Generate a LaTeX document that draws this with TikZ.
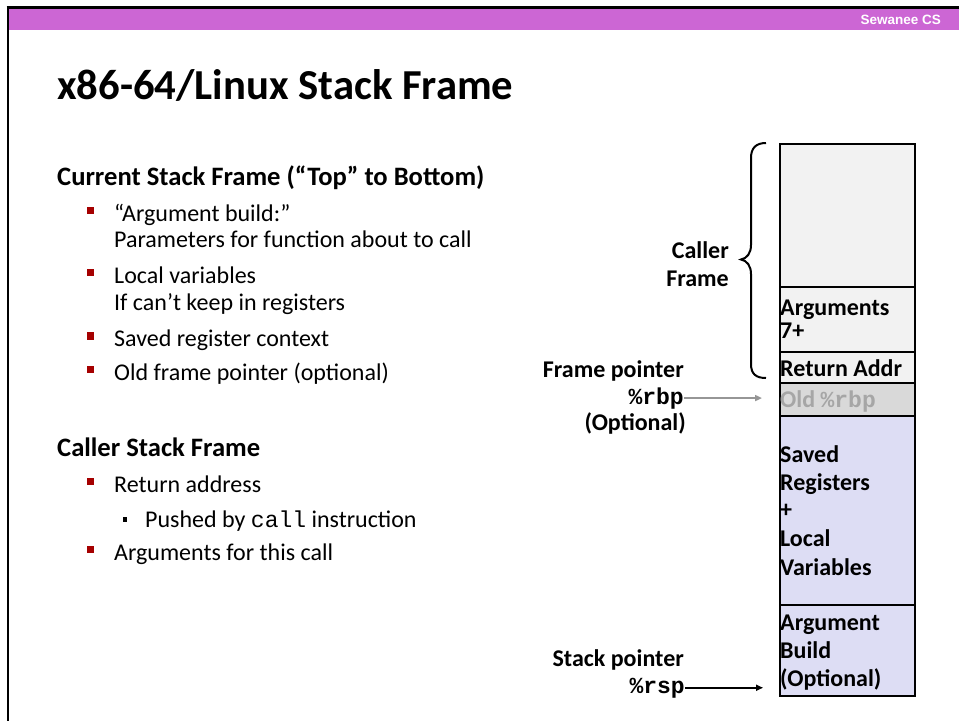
\documentclass[tikz,border=0pt]{standalone}
\usepackage{fontspec}
\setmainfont{Carlito}
\setmonofont{Liberation Mono}
\newfontfamily\hdrfont{Liberation Sans}
\usetikzlibrary{arrows.meta}
\definecolor{band}{RGB}{204,102,212}
\definecolor{bulletred}{RGB}{165,0,0}
\definecolor{cellgray}{RGB}{242,242,242}
\definecolor{oldgray}{RGB}{217,217,217}
\definecolor{oldtext}{RGB}{166,166,166}
\definecolor{lav}{RGB}{221,221,244}
\definecolor{arrgray}{RGB}{150,150,150}
\newcommand{\mymono}[1]{{\fontsize{23}{28}\selectfont\ttfamily #1}}
\begin{document}
\begin{tikzpicture}[x=1pt,y=-1pt,
  txt/.style={inner sep=0pt, anchor=base west, font=\fontsize{24}{28}\selectfont},
  btxt/.style={inner sep=0pt, anchor=base west, font=\fontsize{24}{28}\selectfont\bfseries},
  htxt/.style={inner sep=0pt, anchor=base west, font=\fontsize{26.6}{30}\selectfont\bfseries},
  rtxt/.style={btxt, anchor=base east},
  bul/.style={fill=bulletred, inner sep=0pt, minimum size=7.5pt},
  subbul/.style={fill=black, inner sep=0pt, minimum size=4.5pt},
  cell/.style={draw=black, line width=2pt, anchor=north west, minimum width=135pt, inner sep=0pt},
  ptr/.style={line width=2pt, -{Triangle[length=7pt,width=6pt]}},
]
\useasboundingbox (0,0) rectangle (959,721);
\fill[white] (0,0) rectangle (959,721);
% slide frame
\fill[band] (7,8) rectangle (959,30);
\draw[line width=3pt] (6.5,7.5) -- (959,7.5);
\draw[line width=2pt] (7.5,7) -- (7.5,721);
\node[anchor=base east, inner sep=0pt, text=white, font=\hdrfont\bfseries\fontsize{13.5}{14}\selectfont] (hdr) at (941,24.3) {Sewanee CS};
% title
\node[inner sep=0pt, anchor=base west, font=\fontsize{42.7}{50}\selectfont\bfseries] (title) at (57,99.5) {x86-64/Linux Stack Frame};
% left text
\node[htxt] (h1) at (57,185) {Current Stack Frame (“Top” to Bottom)};
\node[bul] (b1) at (90.5,210.5) {};
\node[txt] (t1a) at (114,221) {“Argument build:”};
\node[txt] (t1b) at (114,247.3) {Parameters for function about to call};
\node[bul] (b2) at (90.5,272.5) {};
\node[txt] (t2a) at (114,283) {Local variables};
\node[txt] (t2b) at (114,310.7) {If can’t keep in registers};
\node[bul] (b3) at (90.5,336.2) {};
\node[txt] (t3) at (114,346.7) {Saved register context};
\node[bul] (b4) at (90.5,369.5) {};
\node[txt] (t4) at (114,380) {Old frame pointer (optional)};
\node[htxt] (h2) at (57,456) {Caller Stack Frame};
\node[bul] (b5) at (90.5,481.5) {};
\node[txt] (t5) at (114,492) {Return address};
\node[subbul] (sb) at (125,519.3) {};
\node[txt] (t6) at (145,527.7) {Pushed by \mymono{call} instruction};
\node[bul] (b6) at (90.5,549.5) {};
\node[txt] (t7) at (114,560) {Arguments for this call};
% stack cells
\node[cell, fill=cellgray, minimum height=143pt] (cTop) at (779,143) {};
\node[cell, fill=cellgray, minimum height=65pt] (cArgs) at (779,286) {};
\node[cell, fill=cellgray, minimum height=31pt] (cRet) at (779,351) {};
\node[cell, fill=oldgray, minimum height=33pt] (cOld) at (779,382) {};
\node[cell, fill=lav, minimum height=189pt] (cSaved) at (779,415) {};
\node[cell, fill=lav, minimum height=91pt] (cBuild) at (779,604) {};
% cell texts
\node[btxt] (a1) at (780,315) {Arguments};
\node[btxt] (a2) at (780,338) {7+};
\node[btxt] (ra) at (780,376.7) {Return Addr};
\node[btxt, text=oldtext] (ob) at (780,407.7) {Old \mymono{\%rbp}};
\node[btxt] (s1) at (780,462) {Saved};
\node[btxt] (s2) at (780,490.7) {Registers};
\node[btxt] (s3) at (780,517) {+};
\node[btxt] (s4) at (780,546.7) {Local};
\node[btxt] (s5) at (780,575.7) {Variables};
\node[btxt] (g1) at (780,630.7) {Argument};
\node[btxt] (g2) at (780,658.7) {Build};
\node[btxt] (g3) at (780,686.7) {(Optional)};
% brace and caller frame label
\draw[line width=2pt] (766,143) .. controls (756,143) and (751,148) .. (751,158) -- (751,245)
  .. controls (751,253) and (747,258.5) .. (741,259.5)
  .. controls (747,260.5) and (751,266) .. (751,274) -- (751,364)
  .. controls (751,374) and (756,378) .. (766,378);
\node[rtxt] (cf1) at (729,258) {Caller};
\node[rtxt] (cf2) at (729,286.7) {Frame};
% pointers
\node[rtxt] (fp) at (684,377.3) {Frame pointer};
\node[rtxt] (rbp) at (684,404) {\mymono{\%rbp}};
\node[rtxt] (opt) at (686,430) {(Optional)};
\node[rtxt] (sp) at (684,666.7) {Stack pointer};
\node[rtxt] (rsp) at (685,693) {\mymono{\%rsp}};
\draw[ptr, arrgray] (rbp.east) -- ([xshift=-17pt]rbp.east -| cOld.west);
\draw[ptr, black] (rsp.east) -- ([xshift=-16pt]rsp.east -| cBuild.west);
\end{tikzpicture}
\end{document}
